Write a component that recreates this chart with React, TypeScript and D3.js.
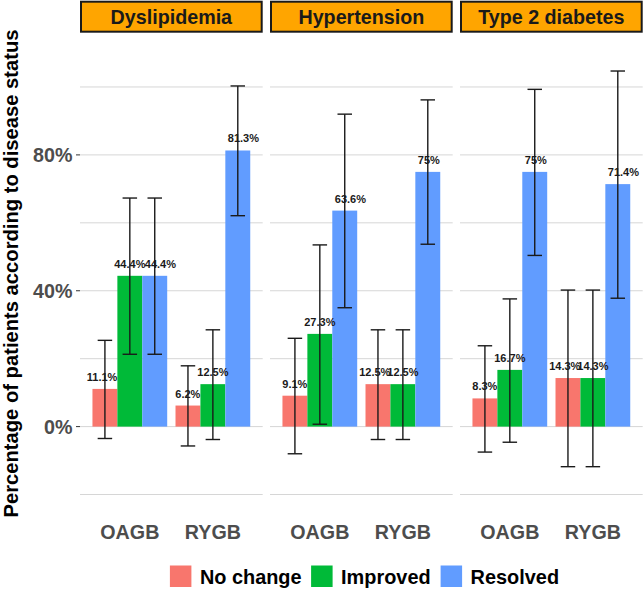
import React from "react";
import * as d3 from "d3";

const diseases = ["Dyslipidemia", "Hypertension", "Type 2 diabetes"];
const procedures = ["OAGB", "RYGB"];
const statuses = ["No change", "Improved", "Resolved"];
const statusColors = ["#F8766D", "#00BA38", "#619CFF"];

// values ordered: Dyslipidemia OAGB, RYGB, Hypertension OAGB, RYGB, T2D OAGB, RYGB
const noChange = [11.1, 6.2, 9.1, 12.5, 8.3, 14.3];
const improved = [44.4, 12.5, 27.3, 12.5, 16.7, 14.3];
const resolved = [44.4, 81.3, 63.6, 75, 75, 71.4];

const noChangeLower = [-3.5, -5.7, -8.0, -3.8, -7.5, -11.8];
const noChangeUpper = [25.4, 17.9, 26.0, 28.5, 23.8, 40.2];
const improvedLower = [21.3, -3.8, 0.7, -3.8, -4.6, -11.8];
const improvedUpper = [67.3, 28.5, 53.5, 28.5, 37.6, 40.2];
const resolvedLower = [21.3, 62.1, 35.0, 53.7, 50.4, 37.8];
const resolvedUpper = [67.3, 100.3, 92.0, 96.2, 99.3, 104.7];

const yMajorTicks = [0, 40, 80];
const yMinorTicks = [-20, 20, 60, 100];

const yTitle = "Percentage of patients according to disease status";

const FONT = "'Liberation Sans', Arial, Helvetica, sans-serif";

export default function App() {
  const W = 644;
  const H = 590;
  const panelLeft0 = 80;
  const panelW = 182.7;
  const panelGap = 7.3;
  const panelTop = 34;
  const panelBottom = 520;

  const y = d3.scaleLinear().domain([-27.5, 115.6]).range([panelBottom, panelTop]);
  const x = d3.scalePoint<string>().domain(procedures).range([0, panelW]).padding(0.6);
  const step = x.step();
  const sub = d3
    .scaleBand<string>()
    .domain(statuses)
    .range([-0.45 * step, 0.45 * step])
    .paddingInner(0)
    .paddingOuter(0);
  const bw = sub.bandwidth();
  const capW = 14.5;

  const valuesBy = [noChange, improved, resolved];
  const lowerBy = [noChangeLower, improvedLower, resolvedLower];
  const upperBy = [noChangeUpper, improvedUpper, resolvedUpper];

  const fmt = (v: number) => `${v}%`;

  const legendWidths = [101.7, 90, 88.5];
  const keySize = 21.5;
  const keyGap = 8.5;
  const itemGap = 9.5;
  const legendTotal =
    legendWidths.reduce((a, b) => a + b, 0) + statuses.length * (keySize + keyGap) + (statuses.length - 1) * itemGap;
  let lx = 364.5 - legendTotal / 2;
  const legendItems = statuses.map((s, i) => {
    const item = { s, i, x: lx };
    lx += keySize + keyGap + legendWidths[i] + itemGap;
    return item;
  });

  return (
    <svg
      width={W}
      height={H}
      viewBox={`0 0 ${W} ${H}`}
      style={{ position: "absolute", left: 0, top: 0, background: "#fff" }}
      fontFamily={FONT}
    >
      <rect x={0} y={0} width={W} height={H} fill="#fff" />
      {/* y axis title */}
      <text
        transform={`translate(18.3,273.5) rotate(-90)`}
        textAnchor="middle"
        fontSize={20.2}
        fontWeight="bold"
        fill="#000"
      >
        {yTitle}
      </text>
      {/* y axis labels + ticks */}
      {yMajorTicks.map((t) => (
        <g key={`yt${t}`}>
          <text x={72.5} y={y(t) + 7} textAnchor="end" fontSize={19.7} fontWeight="bold" fill="#4d4d4d">
            {`${t}%`}
          </text>
          <line x1={76} x2={80} y1={y(t)} y2={y(t)} stroke="#333" strokeWidth={1} />
        </g>
      ))}
      {diseases.map((d, di) => {
        const px = panelLeft0 + di * (panelW + panelGap);
        return (
          <g key={d} transform={`translate(${px},0)`}>
            {/* grid */}
            {yMinorTicks.concat(yMajorTicks).map((t) => (
              <line key={`g${t}`} x1={0} x2={panelW} y1={y(t)} y2={y(t)} stroke="#d6d6d6" strokeWidth={1} />
            ))}
            {/* strip */}
            <rect x={1} y={1.7} width={panelW - 2} height={30} fill="#FFA500" stroke="#1a1a1a" strokeWidth={2} />
            <text x={panelW / 2} y={24} textAnchor="middle" fontSize={19.7} fontWeight="bold" fill="#1a1a1a">
              {d}
            </text>
            {/* bars */}
            {procedures.map((p, pi) =>
              statuses.map((s, si) => {
                const idx = di * procedures.length + pi;
                const v = valuesBy[si][idx];
                const bx = (x(p) as number) + (sub(s) as number);
                return (
                  <rect
                    key={`b${p}${s}`}
                    x={bx}
                    y={y(v)}
                    width={bw}
                    height={y(0) - y(v)}
                    fill={statusColors[si]}
                  />
                );
              })
            )}
            {/* error bars */}
            {procedures.map((p, pi) =>
              statuses.map((s, si) => {
                const idx = di * procedures.length + pi;
                const cx = (x(p) as number) + (sub(s) as number) + bw / 2;
                const lo = y(lowerBy[si][idx]);
                const hi = y(upperBy[si][idx]);
                return (
                  <g key={`e${p}${s}`} stroke="#1a1a1a" strokeWidth={1.4}>
                    <line x1={cx} x2={cx} y1={lo} y2={hi} />
                    <line x1={cx - capW / 2} x2={cx + capW / 2} y1={lo} y2={lo} />
                    <line x1={cx - capW / 2} x2={cx + capW / 2} y1={hi} y2={hi} />
                  </g>
                );
              })
            )}
            {/* value labels */}
            {procedures.map((p, pi) =>
              statuses.map((s, si) => {
                const idx = di * procedures.length + pi;
                const v = valuesBy[si][idx];
                const bx = (x(p) as number) + (sub(s) as number);
                let tx = bx + bw / 2;
                let anchor = "middle";
                if (si === 0) {
                  tx = bx + bw;
                  anchor = "end";
                } else if (si === 2) {
                  tx = bx + 2.5;
                  anchor = "start";
                }
                return (
                  <text
                    key={`l${p}${s}`}
                    x={tx}
                    y={y(v) - 8}
                    textAnchor={anchor}
                    fontSize={11}
                    fontWeight="bold"
                    fill="#1a1a1a"
                  >
                    {fmt(v)}
                  </text>
                );
              })
            )}
            {/* x labels */}
            {procedures.map((p) => (
              <text
                key={`x${p}`}
                x={x(p) as number}
                y={539.3}
                textAnchor="middle"
                fontSize={19.7}
                fontWeight="bold"
                fill="#4d4d4d"
              >
                {p}
              </text>
            ))}
          </g>
        );
      })}
      {/* legend */}
      {legendItems.map(({ s, i, x: ix }) => (
        <g key={`leg${s}`}>
          <rect x={ix} y={565.5} width={keySize} height={keySize} fill={statusColors[i]} />
          <text x={ix + keySize + keyGap} y={583.6} fontSize={19.9} fontWeight="bold" fill="#000">
            {s}
          </text>
        </g>
      ))}
    </svg>
  );
}
